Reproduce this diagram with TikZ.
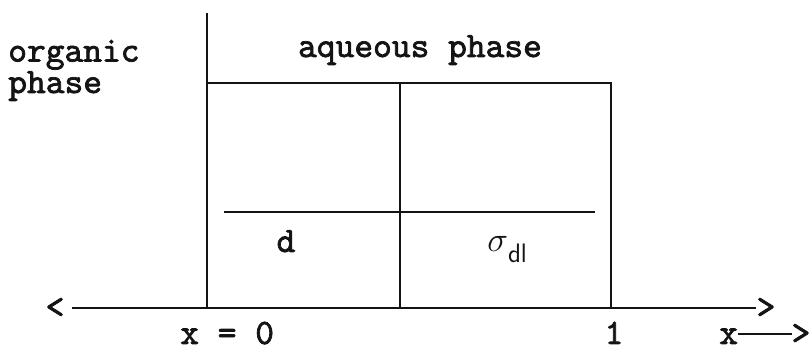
\documentclass[tikz,border=0pt]{standalone}
\usepackage{fontspec}
\usepackage{tikz}
\usetikzlibrary{positioning}
\newfontfamily\typewriter[FakeBold=2]{lmmono10-regular.otf}
\definecolor{ink}{RGB}{20,20,20}

\begin{document}
\begin{tikzpicture}[x=0.025cm,y=-0.025cm,
    lbl/.style={font=\typewriter\fontsize{25.4}{21.3}\selectfont,inner sep=0pt,text=ink},
    wall/.style={draw=ink,line width=0.9pt}]
    \useasboundingbox (0,0) rectangle (812,352);
    \node[lbl,anchor=base west,align=left] (org) at (8,93) {organic\\phase};
    \node[lbl,anchor=base] (aq) at (420,57) {aqueous phase};
    \coordinate (top) at (207,13);
    \coordinate (o) at (207,307);
    \coordinate (tl) at (207,83);
    \coordinate (tm) at (400,83);
    \coordinate (tr) at (611,83);
    \coordinate (bm) at (400,307);
    \coordinate (br) at (611,307);
    \coordinate (dl) at (224,212);
    \coordinate (dr) at (595,212);
    \node[lbl] (lt) at (55,308) {<};
    \node[lbl] (rt) at (766,308) {>};
    \draw[wall,shorten <=0.19cm] (lt) -- (rt);
    \draw[wall] (top) -- (o);
    \draw[wall] (tl) -- (tr) -- (br);
    \draw[wall] (tm) -- (bm);
    \draw[wall] (dl) -- (dr);
    \node[lbl,anchor=base] (d) at (286,252) {d};
    \node[lbl,anchor=base west,font=\fontsize{24}{26}\selectfont] (sig) at (487,252)
      {$\sigma$\raisebox{-0.3em}{\sffamily\fontsize{19}{20}\selectfont dl}};
    \node[lbl,anchor=base west] (x0) at (180,344) {x = 0};
    \node[lbl,anchor=base] (one) at (614,344) {1};
    \node[lbl,anchor=base west] (xr) at (719,344) {x\rule[0.24em]{1.5em}{0.07em}>};
\end{tikzpicture}
\end{document}
